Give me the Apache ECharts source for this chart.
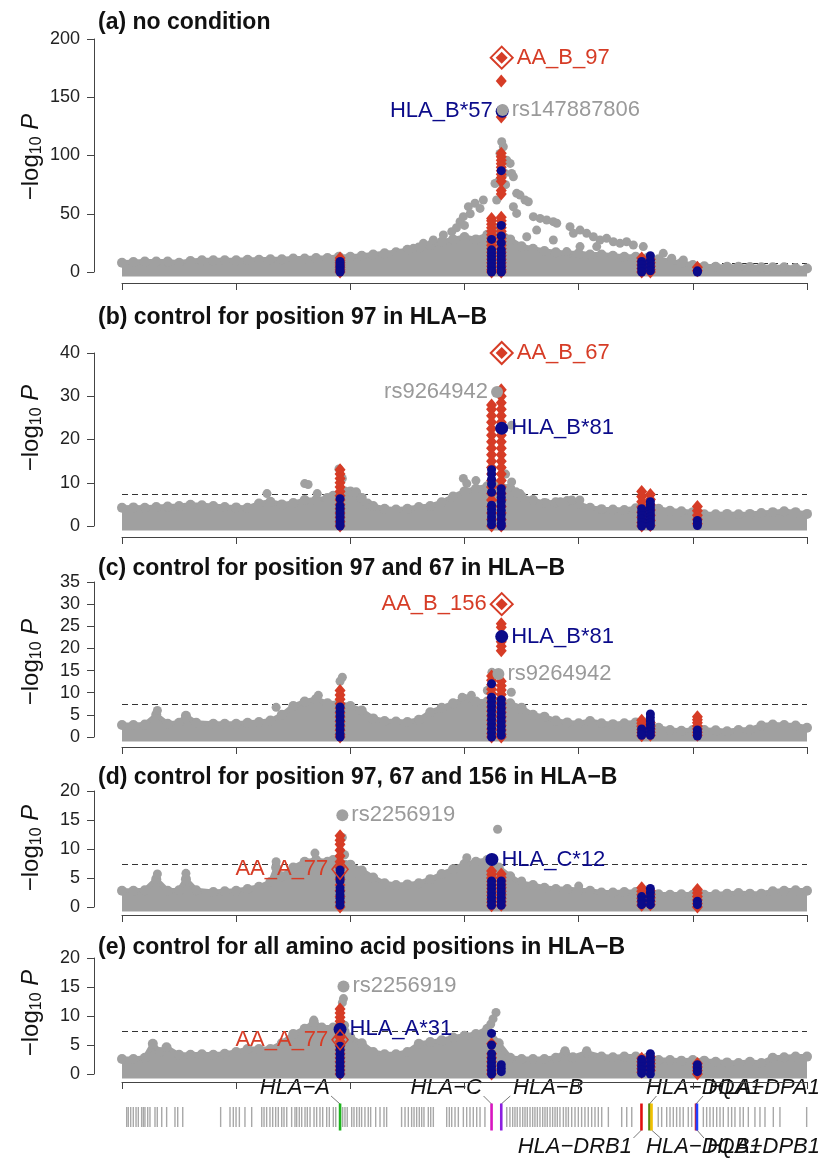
<!DOCTYPE html>
<html><head><meta charset="utf-8">
<script src="https://cdn.jsdelivr.net/npm/echarts@6/dist/echarts.min.js"></script>
<style>html,body{margin:0;padding:0;background:#fff}#c{width:827px;height:1159px}</style>
</head><body><div id="c"></div>
<script>
// ---------------- DATA ----------------
const PANELS = ['a','b','c','d','e'];
const titles = [
  '(a) no condition',
  '(b) control for position 97 in HLA\u2212B',
  '(c) control for position 97 and 67 in HLA\u2212B',
  '(d) control for position 97, 67 and 156 in HLA\u2212B',
  '(e) control for all amino acid positions in HLA\u2212B'
];
const yMax = [200, 40, 35, 20, 20];
const yStep = [50, 10, 5, 5, 5];
const sigLine = 7.3;                 // -log10(5e-8)
const xMinMb = 28, xMaxMb = 34;
// loci of the red/blue columns: HLA-A, HLA-C, HLA-B, DRB1, DQB1, DP
const LOCI = [29.91, 31.237, 31.322, 32.552, 32.628, 33.04];

// grey SNP cloud: upper envelope [Mb, -log10P]
const envA = [[28.0,8],[28.1,8.5],[28.2,9],[28.3,9],[28.4,9],[28.5,8],[28.6,9.5],[28.7,10],[28.8,10],[28.9,10],[29.0,10],[29.1,10.5],[29.2,10.5],[29.3,11],[29.4,11],[29.5,11.5],[29.6,11.5],[29.7,12],[29.8,12],[29.9,13],[30.0,13],[30.1,14],[30.2,15],[30.3,16],[30.4,17],[30.5,19],[30.6,21],[30.7,23],[30.8,26],[30.9,28],[31.0,30],[31.1,28],[31.2,32],[31.3,36],[31.4,28],[31.5,22],[31.6,20],[31.7,18],[31.8,17],[31.9,16],[32.0,16],[32.1,15],[32.2,15],[32.3,14],[32.4,13],[32.5,13],[32.6,12],[32.7,11],[32.8,9],[32.9,8],[33.0,6],[33.1,5],[33.2,4.5],[33.3,4.5],[33.4,4.5],[33.5,4.2],[33.6,4],[33.7,4],[33.8,4],[33.9,3.5],[34.0,3]];
const envB = [[28.0,4.2],[28.1,4.3],[28.2,4.2],[28.3,4.4],[28.4,4.5],[28.5,4.6],[28.6,4.9],[28.7,4.8],[28.8,4.6],[28.9,4.4],[29.0,4.3],[29.1,4.2],[29.2,5.2],[29.3,5.6],[29.4,5.0],[29.5,5.3],[29.6,6.0],[29.7,6.0],[29.8,6.5],[29.85,7],[29.95,8],[30.0,8],[30.05,7.8],[30.1,6.5],[30.15,5.2],[30.2,4.6],[30.3,4.0],[30.4,3.8],[30.5,4.0],[30.6,4.4],[30.7,4.6],[30.8,5.5],[30.9,6.8],[31.0,8],[31.1,8.6],[31.2,9.2],[31.3,9.6],[31.4,8.8],[31.45,7.8],[31.5,6.8],[31.6,6],[31.7,5.3],[31.8,5.5],[31.9,5.8],[32.0,5.1],[32.1,4.2],[32.2,3.9],[32.3,3.8],[32.4,3.7],[32.5,4.1],[32.6,4.6],[32.7,4.0],[32.8,3.5],[32.9,3.4],[33.0,3.2],[33.1,2.7],[33.2,2.7],[33.3,2.8],[33.4,2.7],[33.5,2.8],[33.6,3.0],[33.7,3.2],[33.8,3.4],[33.9,3.2],[34.0,2.8]];
const envC = [[28.0,2.7],[28.1,2.7],[28.2,2.8],[28.3,5.0],[28.4,3.0],[28.5,3.2],[28.56,4.8],[28.65,3.2],[28.8,3.0],[28.9,3.0],[29.0,3.0],[29.1,3.2],[29.2,3.4],[29.3,3.7],[29.4,5.0],[29.5,7.0],[29.6,8.0],[29.7,8.6],[29.8,7.6],[29.9,7.6],[30.0,7.0],[30.1,6.0],[30.2,4.2],[30.3,3.6],[30.4,3.5],[30.5,3.4],[30.6,3.9],[30.7,5.6],[30.8,6.6],[30.9,7.6],[31.0,8.6],[31.1,8.0],[31.2,8.0],[31.3,8.0],[31.4,7.6],[31.5,6.6],[31.6,5.0],[31.7,4.6],[31.8,3.7],[31.9,3.3],[32.0,3.1],[32.1,3.6],[32.2,3.1],[32.3,2.9],[32.4,3.1],[32.5,3.3],[32.6,3.1],[32.7,2.1],[32.8,1.6],[32.9,1.4],[33.0,1.6],[33.1,1.6],[33.2,1.5],[33.3,1.3],[33.4,1.6],[33.5,1.7],[33.6,2.6],[33.7,2.8],[33.8,2.7],[33.9,2.6],[34.0,2.1]];
const envD = [[28.0,2.8],[28.1,2.8],[28.2,2.9],[28.3,4.8],[28.4,2.8],[28.5,2.9],[28.56,4.8],[28.65,2.9],[28.8,2.6],[28.9,2.7],[29.0,2.8],[29.1,3.1],[29.2,3.5],[29.3,4.3],[29.35,6.8],[29.4,5.3],[29.5,6.8],[29.6,7.8],[29.7,8.1],[29.8,7.8],[29.85,8.1],[29.95,7.3],[30.0,7.3],[30.1,6.3],[30.2,5.1],[30.3,4.1],[30.4,3.8],[30.5,3.9],[30.6,4.1],[30.7,4.8],[30.8,5.7],[30.9,6.5],[31.0,7.4],[31.1,7.8],[31.2,8.1],[31.3,6.8],[31.4,5.3],[31.5,4.1],[31.6,3.8],[31.7,3.3],[31.8,3.1],[31.9,3.1],[32.0,2.9],[32.1,2.8],[32.2,2.5],[32.3,2.5],[32.4,2.6],[32.5,2.6],[32.6,2.5],[32.7,2.2],[32.8,2.1],[32.9,2.2],[33.0,2.1],[33.1,2.1],[33.2,2.2],[33.3,2.3],[33.4,2.4],[33.5,2.3],[33.6,2.3],[33.7,2.7],[33.8,2.8],[33.9,2.9],[34.0,2.8]];
const envE = [[28.0,2.6],[28.1,2.6],[28.2,2.8],[28.27,5.2],[28.33,3.8],[28.39,4.6],[28.5,3.3],[28.6,3.3],[28.7,3.4],[28.8,3.3],[28.9,3.5],[29.0,3.8],[29.1,4.3],[29.2,4.3],[29.3,4.3],[29.4,5.3],[29.5,6.9],[29.6,7.8],[29.68,8.9],[29.75,8.0],[29.85,8.0],[29.95,7.3],[30.0,6.3],[30.1,5.3],[30.2,3.8],[30.3,3.4],[30.4,3.4],[30.5,3.8],[30.6,5.2],[30.7,5.5],[30.8,5.8],[30.9,6.3],[31.0,6.6],[31.1,6.9],[31.2,7.8],[31.3,5.3],[31.4,2.8],[31.5,2.6],[31.6,2.6],[31.7,2.6],[31.8,2.8],[31.88,3.7],[31.95,2.9],[32.07,3.7],[32.2,3.0],[32.3,2.9],[32.4,3.0],[32.5,3.0],[32.6,2.8],[32.7,2.4],[32.8,2.4],[32.9,2.3],[33.0,2.4],[33.1,2.3],[33.2,2.1],[33.3,2.0],[33.4,1.9],[33.5,2.1],[33.6,1.9],[33.7,2.8],[33.8,2.9],[33.9,3.0],[34.0,3.0]];

// isolated grey SNPs above the cloud [Mb, -log10P]
const greyA = [[30.435,16],[30.552,20.3],[30.64,24.6],[30.727,27.5],[30.815,31.8],[30.888,34.6],[30.961,43.2],[30.99,47.5],[31.034,56.1],[31.092,59],[31.136,54.6],[31.165,61.8],[31.05,50],[31.0,40],[30.93,38],[31.282,61.8],[31.297,77.5],[31.267,76],[31.311,101.8],[31.326,111.8],[31.34,107.5],[31.37,96],[31.4,93.2],[31.413,84.6],[31.428,81.8],[31.35,85],[31.36,75],[31.457,67.5],[31.486,66],[31.53,61.8],[31.559,60.3],[31.428,56],[31.457,50.3],[31.603,47.5],[31.662,46],[31.72,44.6],[31.778,43.2],[31.808,41.8],[31.632,36],[31.545,30.3],[31.924,38.9],[31.954,33.2],[32.012,36],[32.07,33.2],[32.129,30.3],[32.187,27.5],[32.245,28.9],[32.304,26],[32.362,24.6],[32.42,26],[32.479,23.2],[32.566,21.8],[32.741,16],[32.815,11.8],[32.917,10.3],[32.012,21.8],[31.895,17.5],[31.778,27.5],[32.158,21.8]];
const greyB = [[29.27,7.5],[29.6,9.8],[29.63,9.6],[29.71,7.5],[29.9,13.2],[29.93,11],[30.99,11],[31.02,9.8],[31.1,10.5],[31.413,23.3],[31.36,12],[31.413,10.2],[31.486,7.5],[31.72,5.3],[31.84,5.6],[31.94,6],[32.01,6]];
const greyC = [[29.93,13.5],[29.91,12.6],[31.24,14.6],[31.41,10.1],[28.31,6.0],[29.35,6.7],[31.06,9.4],[30.98,9.0],[29.72,9.4],[31.5,6.2],[31.2,10.5]];
const greyD = [[28.31,5.7],[28.56,5.8],[29.35,7.8],[29.69,9.3],[30.06,5.9],[31.02,8.5],[31.29,13.4],[31.25,8.2],[31.5,4.5],[32.0,3.6],[29.93,12],[29.95,9]];
const greyE = [[29.95,8.4],[29.93,12.3],[29.94,13],[31.23,8.6],[31.276,10.6],[31.25,9.5],[31.88,4],[32.07,4],[29.68,9.3]];

// amino-acid positions (red), one list per locus in LOCI order
const redA = [[12,10,8,6,4,2,0],[46,44,41,38,35,32,29,26,23,20,17,14,11,8,5,2,0],[164,133,102,99,96,93,90,87,84,81,78,70,67,47,44,41,38,35,32,29,26,23,20,17,14,11,8,5,2,0],[12,9,6,3,0],[11,8,5,2,0],[4,1]];
const redB = [[13,12,11,10,9,8,7,6,5,4,3,2,1,0],[28,27,25.5,24,22.5,21,19.5,18,16.5,15,13.5,12,10.5,9,7.5,6,4.5,3,1.5,0],[31.5,30,28.5,27,25.5,24,22.5,21,19.5,18,16.5,15,13.5,12,10.5,9,7.5,6,4.5,3,1.5,0],[8,6.8,5.6,4.4,3.2,2,0.8,0],[7.3,6.1,4.9,3.7,2.5,1.3,0.1],[4.5,3.5,2.5,1.5,0.5]];
const redC = [[10.5,9.5,8.5,7.5,6.5,5.5,4.5,3.5,2.5,1.5,0.5,0],[13.8,12.8,11.8,10.8,9.8,8.8,7.8,6.8,5.8,4.8,3.8,2.8,1.8,0.8,0],[25.6,24.8,21.5,20.5,19.5,12.6,11.6,10.6,9.6,8.6,7.6,6.6,5.6,4.6,3.6,2.6,1.6,0.6,0],[3.8,3.1,2.4,1.7,1.0,0.3],[3.2,2.5,1.8,1.1,0.4],[4.6,3.9,3.2,2.5,1.8,1.1,0.4]];
const redD = [[12.3,11.5,10.8,9.8,8.8,7.8,6.8,5.8,4.8,3.8,2.8,1.8,0.8,0],[6.2,5.6,5.0,4.4,3.8,3.2,2.6,2.0,1.4,0.8,0.2],[5.7,5.1,4.5,3.9,3.3,2.7,2.1,1.5,0.9,0.3],[3.3,2.7,2.1,1.5,0.9,0.3],[2.8,2.2,1.6,1.0,0.4],[3.0,2.4,1.8,1.2,0.6,0]];
const redE = [[11.2,10.5,9.8,9.1,8.4,7.0,6.3,5.6,4.9,4.2,3.5,2.8,2.1,1.4,0.7,0],[5.2,3.5,2.8,2.1,1.4,0.7,0],[],[2.7,2.1,1.5,0.9,0.3],[3.0,2.4,1.8,1.2,0.6],[1.8,1.2,0.6,0]];
// classical HLA alleles (blue)
const blueA = [[9,7,5,3,1,0],[28,19,16,13,10,7,4,1,0],[87,40,31,25,19,16,13,10,7,4,1,0],[9,6,3,0],[14,10,7,4,1],[1,0]];
const blueB = [[6.3,4.7,4,3.3,2.6,1.9,1.2,0.5,0],[13,12,10.8,9.7,7.8,4.8,3.9,3,2.1,1.2,0.3],[8.6,7.6,6.6,5.6,4.6,3.6,2.6,1.6,0.6,0],[4,3.2,2.4,1.6,0.8,0],[5.6,4.9,4.2,3.5,2.8,2.1,1.4,0.7,0],[1.3,0.7,0.1]];
const blueC = [[6.8,5.8,4.8,3.8,2.8,1.8,0.8,0],[12,9,8,7,6,5,4,3,2,1,0],[8.4,7.4,6.4,5.4,4.4,3.4,2.4,1.4,0.4],[1.8,1.1,0.4],[5.2,4.4,3.6,2.8,2.0,1.2,0.4],[1.6,0.9,0.2]];
const blueD = [[6.4,5.7,5.1,4.5,3.3,2.7,2.1,1.5,0.9,0.3],[4.5,3.8,3.1,2.4,1.7,1.0,0.3],[4.5,3.8,3.1,2.4,1.7,1.0,0.3],[1.8,1.1,0.4],[3.2,2.5,1.8,1.1,0.4],[1.0,0.4]];
const blueE = [[4.8,4.1,3.4,2.7,2.0,1.3,0.6,0],[7.0,5.0,3.5,2.7,2.0,1.3,0.6,0],[1.6,1.0,0.4],[2.5,1.9,1.3,0.7,0.1],[3.5,2.8,2.1,1.4,0.7,0],[1.6,1.0,0.4]];

// labelled top hits [Mb, -log10P, name]
const leadsA = [[31.326,184,'AA_B_97'],[31.33,138,'HLA_B*57'],[31.334,139,'rs147887806']];
const leadsB = [[31.326,40,'AA_B_67'],[31.285,31,'rs9264942'],[31.326,22.6,'HLA_B*81']];
const leadsC = [[31.326,30,'AA_B_156'],[31.297,14.2,'rs9264942'],[31.326,22.7,'HLA_B*81']];
const leadsD = [[29.93,15.8,'rs2256919'],[29.91,6.5,'AA_A_77'],[31.24,8.2,'HLA_C*12']];
const leadsE = [[29.94,15.1,'rs2256919'],[29.91,7.7,'HLA_A*31'],[29.91,5.9,'AA_A_77']];

// gene track (Mb)
const geneBars = [28.041,28.055,28.076,28.099,28.123,28.143,28.172,28.187,28.201,28.225,28.245,28.289,28.309,28.348,28.391,28.464,28.488,28.532,28.864,28.946,28.975,28.999,29.028,29.077,29.136,29.224,29.244,29.267,29.296,29.320,29.346,29.369,29.399,29.419,29.443,29.486,29.515,29.530,29.553,29.574,29.603,29.623,29.647,29.682,29.705,29.734,29.758,29.793,29.816,29.851,29.872,29.933,29.953,29.973,30.012,30.032,30.056,30.079,30.099,30.128,30.157,30.178,30.222,30.260,30.295,30.318,30.449,30.479,30.508,30.537,30.558,30.581,30.604,30.625,30.645,30.683,30.704,30.727,30.844,30.867,30.888,30.917,30.946,30.990,31.019,31.048,31.077,31.107,31.136,31.179,31.370,31.398,31.422,31.442,31.462,31.486,31.510,31.530,31.550,31.574,31.597,31.617,31.638,31.661,31.685,31.705,31.725,31.749,31.772,31.793,31.813,31.836,31.866,31.889,31.910,31.939,31.968,31.997,32.026,32.055,32.084,32.114,32.143,32.172,32.202,32.260,32.377,32.421,32.465,32.697,32.727,32.771,32.800,32.829,32.858,32.887,32.916,32.960,32.990,33.092,33.121,33.150,33.179,33.209,33.238,33.267,33.310,33.340,33.369,33.413,33.442,33.486,33.544,33.588,33.632,33.705,33.763,33.997];
const hlaGeneNames = ['HLA\u2212A','HLA\u2212C','HLA\u2212B','HLA\u2212DRB1','HLA\u2212DQA1','HLA\u2212DQB1','HLA\u2212DPA1','HLA\u2212DPB1'];
const hlaGenePos = [29.910, 31.237, 31.322, 32.550, 32.620, 32.638, 33.028, 33.036];

// ---------------- LAYOUT / STYLE ----------------
const FONT = '"Liberation Sans", Arial, Helvetica, sans-serif';
const GREY = '#a0a0a0', RED = '#d63c26', BLUE = '#0b0b8a', GREY_TXT = '#9a9a9a', AX = '#444';
const gridTop = [39, 353, 582, 791, 958];
const gridH = [233, 173, 155, 116, 116];
const xOff = [11, 11, 10, 8, 8];
const titleY = [24, 319, 570, 779, 949];
const yLabY = [157, 428, 662, 848, 1013];
const labelSide = [['right','left','right'],['right','left','right'],['left','right','right'],['right','left','right'],['right','right','left']];
const openAA = [false,false,false,true,true];
const geneColors = ['#1db31d','#d816c0','#8b1fe0','#e01010','#5a8a10','#f0c000','#e02020','#2040ff'];
// gene label layout: label edge (Mb, converted by axis), alignment, row, connector dx (px)
const geneLabelLayout = [
  {g:0, row:'top', align:'right', edge:29.822, dx:-9},
  {g:1, row:'top', align:'right', edge:31.153, dx:-8},
  {g:2, row:'top', align:'left', edge:31.425, dx:9},
  {g:3, row:'bottom', align:'right', edge:32.467, dx:-8},
  {g:4, row:'top', align:'left', edge:32.59, dx:7},
  {g:5, row:'bottom', align:'left', edge:32.59, dx:9},
  {g:6, row:'top', align:'right', edge:34.114, dx:7},
  {g:7, row:'bottom', align:'right', edge:34.114, dx:7}
];

const envs = [envA, envB, envC, envD, envE];
const greys = [greyA, greyB, greyC, greyD, greyE];
const reds = [redA, redB, redC, redD, redE];
const blues = [blueA, blueB, blueC, blueD, blueE];
const leads = [leadsA, leadsB, leadsC, leadsD, leadsE];

function colPoints(cols) {
  const out = [];
  cols.forEach((vals, k) => vals.forEach(v => out.push([LOCI[k], v])));
  return out;
}
function leadItems(list, i) {
  const items = [];
  list.forEach((d, k) => {
    const side = labelSide[i][k];
    const name = d[2];
    let color = GREY_TXT;
    if (name.startsWith('AA_')) color = RED; else if (name.startsWith('HLA_')) color = BLUE;
    const label = {show: true, position: side, distance: 3, formatter: name, color: color,
      fontSize: 22, fontFamily: FONT, opacity: 1};
    if (name.startsWith('AA_')) {
      if (openAA[i]) {
        items.push({value: [d[0], d[1]], symbol: 'diamond', symbolSize: [16, 20],
          itemStyle: {color: 'rgba(0,0,0,0)', borderColor: RED, borderWidth: 1.6, opacity: 1}, label});
      } else {
        items.push({value: [d[0], d[1]], symbol: 'diamond', symbolSize: [22, 22],
          itemStyle: {color: '#fff', borderColor: RED, borderWidth: 2, opacity: 1}, label});
        items.push({value: [d[0], d[1]], symbol: 'diamond', symbolSize: [12, 12],
          itemStyle: {color: RED, opacity: 1}});
      }
    } else if (name.startsWith('HLA_')) {
      items.push({value: [d[0], d[1]], symbol: 'circle', symbolSize: 13, itemStyle: {color: BLUE, opacity: 1}, label});
    } else {
      items.push({value: [d[0], d[1]], symbol: 'circle', symbolSize: 12, itemStyle: {color: GREY, opacity: 1}, label});
    }
  });
  return items;
}

const grid = [], xAxis = [], yAxis = [], series = [];
PANELS.forEach((p, i) => {
  grid.push({left: 122, right: 20, top: gridTop[i], height: gridH[i]});
  xAxis.push({type: 'value', gridIndex: i, min: xMinMb, max: xMaxMb, interval: 1, offset: xOff[i],
    axisLine: {show: true, onZero: false, lineStyle: {color: AX, width: 1}},
    axisTick: {show: true, length: 7, lineStyle: {color: AX}},
    axisLabel: {show: false}, splitLine: {show: false}});
  yAxis.push({type: 'value', gridIndex: i, min: 0, max: yMax[i], interval: yStep[i], offset: 28,
    axisLine: {show: true, onZero: false, lineStyle: {color: AX, width: 1}},
    axisTick: {show: true, length: 7, lineStyle: {color: AX}},
    axisLabel: {fontSize: 18, color: '#222', margin: 14, fontFamily: FONT},
    splitLine: {show: false}});
  const pxPerUnit = gridH[i] / yMax[i];
  series.push({type: 'line', xAxisIndex: i, yAxisIndex: i, data: [], z: 1, silent: true,
    markLine: {silent: true, z: 1, symbol: ['none','none'], label: {show: false},
      lineStyle: {type: [6, 4], color: '#333', width: 1}, data: [{yAxis: sigLine}]}});
  series.push({type: 'line', xAxisIndex: i, yAxisIndex: i, data: envs[i], z: 2, silent: true,
    clip: false, symbol: 'circle', symbolSize: 10, showSymbol: true, showAllSymbol: true,
    itemStyle: {color: GREY, opacity: 1}, lineStyle: {color: GREY, width: 5, join: 'round', cap: 'round'},
    areaStyle: {color: GREY, opacity: 1, origin: -4.5 / pxPerUnit}});
  series.push({type: 'scatter', xAxisIndex: i, yAxisIndex: i, data: greys[i], z: 2, silent: true,
    clip: false, symbol: 'circle', symbolSize: 9, itemStyle: {color: GREY, opacity: 1}});
  series.push({type: 'scatter', xAxisIndex: i, yAxisIndex: i, data: colPoints(reds[i]), z: 3, silent: true,
    clip: false, symbol: 'diamond', symbolSize: [11, 13], itemStyle: {color: RED, opacity: 1}});
  series.push({type: 'scatter', xAxisIndex: i, yAxisIndex: i, data: colPoints(blues[i]), z: 4, silent: true,
    clip: false, symbol: 'circle', symbolSize: 9, itemStyle: {color: BLUE, opacity: 1}});
  series.push({type: 'scatter', xAxisIndex: i, yAxisIndex: i, data: leadItems(leads[i], i), z: 5, silent: true,
    clip: false, itemStyle: {opacity: 1}});
});
// gene track grid
grid.push({left: 122, right: 20, top: 1107, height: 20});
xAxis.push({type: 'value', gridIndex: 5, min: xMinMb, max: xMaxMb, show: false});
yAxis.push({type: 'value', gridIndex: 5, min: 0, max: 1, show: false});
series.push({type: 'scatter', xAxisIndex: 5, yAxisIndex: 5, silent: true, z: 2,
  data: geneBars.map(x => [x, 0.5]), symbol: 'rect', symbolSize: [1.4, 20], itemStyle: {color: '#a8a8a8', opacity: 1}});
series.push({type: 'scatter', xAxisIndex: 5, yAxisIndex: 5, silent: true, z: 3,
  data: hlaGenePos.map((x, k) => ({value: [x, 0.5], itemStyle: {color: geneColors[k], opacity: 1}})),
  symbol: 'rect', symbolSize: [2.6, 27]});

const chart = echarts.init(document.getElementById('c'), null, {renderer: 'canvas', width: 827, height: 1159});
chart.setOption({animation: false, backgroundColor: '#fff', grid, xAxis, yAxis, series});

// ---------- graphic texts ----------
const ctx = document.createElement('canvas').getContext('2d');
function tw(text, font) { ctx.font = font; return ctx.measureText(text).width; }
const graphic = [];
titles.forEach((t, i) => {
  graphic.push({type: 'text', left: 98, top: titleY[i] - 13, silent: true,
    style: {text: t, fill: '#111', font: 'bold 23px ' + FONT}});
});
// y axis title: −log10 P
const f1 = '24px ' + FONT, f2 = '16px ' + FONT, f3 = 'italic 24px ' + FONT;
const w1 = tw('\u2212log', f1), w2 = tw('10', f2), wsp = tw(' ', f1), w3 = tw('P', f3);
const W = w1 + w2 + wsp + w3;
yLabY.forEach(cy => {
  graphic.push({type: 'group', x: 31, y: cy, rotation: Math.PI / 2, silent: true, children: [
    {type: 'text', style: {text: '\u2212log', x: -W / 2, y: 0, font: f1, fill: '#111', textAlign: 'left', textVerticalAlign: 'middle', align: 'left', verticalAlign: 'middle'}},
    {type: 'text', style: {text: '10', x: -W / 2 + w1, y: 6, font: f2, fill: '#111', textAlign: 'left', textVerticalAlign: 'middle', align: 'left', verticalAlign: 'middle'}},
    {type: 'text', style: {text: 'P', x: -W / 2 + w1 + w2 + wsp, y: 0, font: f3, fill: '#111', textAlign: 'left', textVerticalAlign: 'middle', align: 'left', verticalAlign: 'middle'}}
  ]});
});
// gene labels + connectors
const rowY = {top: 1088, bottom: 1147};
geneLabelLayout.forEach(L => {
  const gx = chart.convertToPixel({xAxisIndex: 5}, hlaGenePos[L.g]);
  const ex = chart.convertToPixel({xAxisIndex: 5}, L.edge);
  graphic.push({type: 'text', silent: true, style: {text: hlaGeneNames[L.g], x: ex, y: rowY[L.row],
    font: 'italic 22px ' + FONT, fill: '#111', textAlign: L.align, textVerticalAlign: 'middle', align: L.align, verticalAlign: 'middle'}});
  const y1 = L.row === 'top' ? 1104 : 1130, y2 = L.row === 'top' ? 1096 : 1138;
  graphic.push({type: 'line', silent: true, shape: {x1: gx, y1: y1, x2: gx + L.dx, y2: y2},
    style: {stroke: '#555', lineWidth: 0.8}});
});
chart.setOption({graphic});
</script></body></html>
